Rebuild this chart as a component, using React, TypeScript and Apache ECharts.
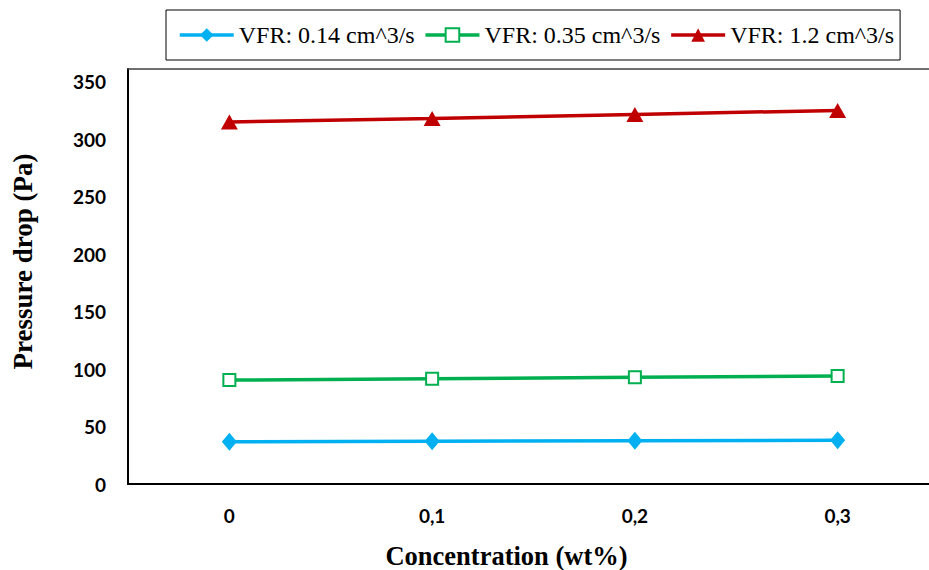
import React, { useEffect, useRef } from "react";
import * as echarts from "echarts";

const categories = ["0", "0,1", "0,2", "0,3"];
const seriesNames = ["VFR: 0.14 cm^3/s", "VFR: 0.35 cm^3/s", "VFR: 1.2 cm^3/s"];
const vfr014 = [36.8, 37.2, 37.6, 38];
const vfr035 = [90.4, 91.6, 92.8, 94];
const vfr12 = [315, 318, 321.5, 325];
const colors = ["#00B0F0", "#00B050", "#C00000"];

export default function App() {
  const ref = useRef<HTMLDivElement>(null);
  useEffect(() => {
    if (!ref.current) return;
    const chart = echarts.init(ref.current, undefined, { renderer: "svg" });
    const labelFont = { fontFamily: "Lato", fontWeight: "bold" as const, fontSize: 19, color: "#000" };
    chart.setOption({
      animation: false,
      backgroundColor: "#fff",
      legend: {
        data: seriesNames,
        left: 166,
        top: 10,
        padding: [13, 6, 13, 12],
        borderColor: "#000",
        borderWidth: 1,
        itemWidth: 54,
        itemHeight: 17,
        itemGap: 9,
        lineStyle: { width: 3.5 },
        textStyle: { fontFamily: "Liberation Serif", fontSize: 24, color: "#000" },
      },
      grid: { left: 128, right: 1, top: 69, bottom: 86, containLabel: false, outerBoundsMode: "none" },
      xAxis: [
        {
          type: "category",
          data: categories,
          position: "bottom",
          axisLine: { lineStyle: { color: "#000", width: 2 } },
          axisTick: { show: false },
          axisLabel: { ...labelFont, margin: 22 },
          name: "Concentration (wt%)",
          nameLocation: "middle",
          nameGap: 58,
          nameTextStyle: { fontFamily: "Liberation Serif", fontWeight: "bold", fontSize: 26.5, color: "#000", padding: [0, 0, 0, -54] },
        },
        {
          type: "category",
          data: categories,
          position: "top",
          axisLine: { lineStyle: { color: "#404040", width: 1.5 } },
          axisTick: { show: false },
          axisLabel: { show: false },
        },
      ],
      yAxis: {
        type: "value",
        min: 0,
        max: 361,
        interval: 50,
        showMaxLabel: false,
        axisLine: { show: true, lineStyle: { color: "#000", width: 2 } },
        axisTick: { show: false },
        splitLine: { show: false },
        axisLabel: {
          ...labelFont,
          margin: 22,
          formatter: (v: number) => (v % 50 === 0 ? String(v) : ""),
        },
        name: "Pressure drop (Pa)",
        nameLocation: "middle",
        nameGap: 92,
        nameTextStyle: { fontFamily: "Liberation Serif", fontWeight: "bold", fontSize: 27, color: "#000", padding: [0, 0, 0, 30] },
      },
      series: [
        {
          name: seriesNames[0],
          type: "line",
          data: vfr014,
          color: colors[0],
          lineStyle: { width: 3.5, color: colors[0] },
          symbol: "diamond",
          symbolSize: [15, 18],
          itemStyle: { color: colors[0] },
        },
        {
          name: seriesNames[1],
          type: "line",
          data: vfr035,
          color: colors[1],
          lineStyle: { width: 3.5, color: colors[1] },
          symbol: "rect",
          symbolSize: 12,
          itemStyle: { color: "#fff", borderColor: colors[1], borderWidth: 2 },
        },
        {
          name: seriesNames[2],
          type: "line",
          data: vfr12,
          color: colors[2],
          lineStyle: { width: 3.5, color: colors[2] },
          symbol: "triangle",
          symbolSize: [17, 15],
          itemStyle: { color: colors[2] },
        },
      ],
    });
    return () => chart.dispose();
  }, []);
  return (
    <div style={{ position: "absolute", left: 0, top: 0, width: 929, height: 570, overflow: "hidden" }}>
      <div ref={ref} style={{ width: 940, height: 570 }} />
    </div>
  );
}
